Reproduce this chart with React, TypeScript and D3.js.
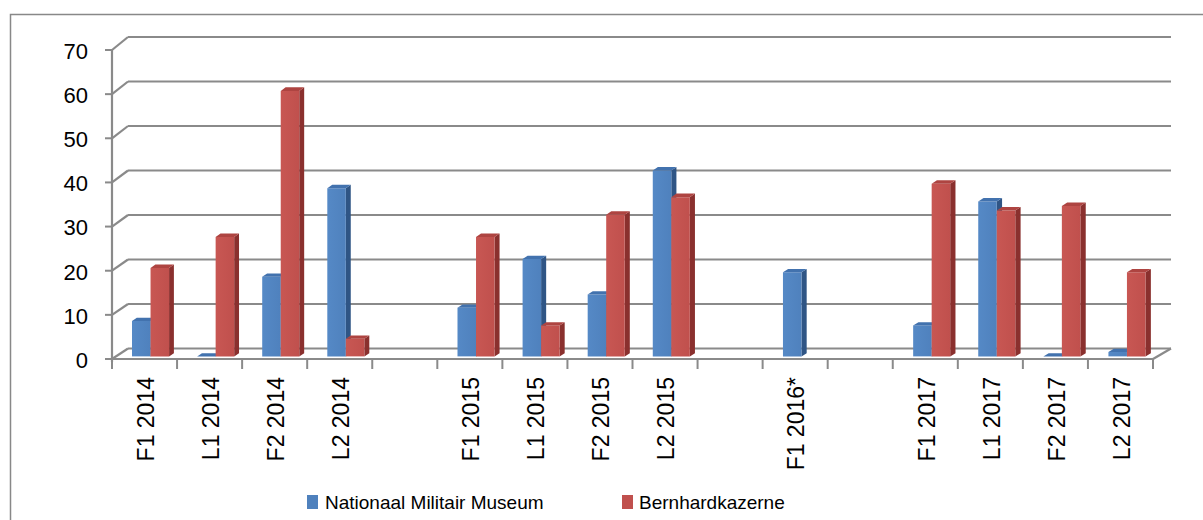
import React from "react";
import * as d3 from "d3";

const categories = ["F1 2014", "L1 2014", "F2 2014", "L2 2014", "", "F1 2015", "L1 2015", "F2 2015", "L2 2015", "", "F1 2016*", "", "F1 2017", "L1 2017", "F2 2017", "L2 2017"];
const nmmValues: (number | null)[] = [8, 0, 18, 38, null, 11, 22, 14, 42, null, 19, null, 7, 35, 0, 1];
const bkValues: (number | null)[] = [20, 27, 60, 4, null, 27, 7, 32, 36, null, null, null, 39, 33, 34, 19];
const seriesNames = ["Nationaal Militair Museum", "Bernhardkazerne"];
const yTicks = [0, 10, 20, 30, 40, 50, 60, 70];

const W = 1203;
const H = 520;
const FONT = "'Liberation Sans', Arial, sans-serif";
const GRID = "#8a8a8a";

const palettes = [
  { front: "#4F81BD", frontHi: "#5589C6", top: "#4272AE", side: "#2F5585" },
  { front: "#C0504D", frontHi: "#C85753", top: "#AE4441", side: "#8A302E" },
];

const xFront = d3.scaleBand<number>().domain(d3.range(categories.length)).range([112, 1153]).paddingInner(0).paddingOuter(0);
const xBack = d3.scaleLinear().domain([112, 1153]).range([128, 1171]);
const yFront = d3.scaleLinear().domain([0, 70]).range([359, 50]);
const yBack = d3.scaleLinear().domain([0, 70]).range([348.5, 37]);
const sub = d3.scaleBand<number>().domain([0, 1]).range([0, xFront.step()]).paddingInner(0).paddingOuter(0.757);

function project(x: number, v: number, d: number): [number, number] {
  const xf = x, yf = yFront(v);
  const xb = xBack(x), yb = yBack(v);
  return [xf + d * (xb - xf), yf + d * (yb - yf)];
}
const pts = (arr: [number, number][]) => arr.map((p) => p[0].toFixed(2) + "," + p[1].toFixed(2)).join(" ");

const D0 = 0.25;
const D1 = 0.55;
const SHIFT = 2;

export default function App() {
  React.useEffect(() => {
    document.body.style.margin = "0";
    document.body.style.overflow = "hidden";
  }, []);

  const series = [nmmValues, bkValues];
  const bars: JSX.Element[] = [];
  categories.forEach((_, i) => {
    series.forEach((vals, s) => {
      const v = vals[i];
      if (v === null || v === undefined) return;
      const x0 = (xFront(i) as number) + (sub(s) as number) + SHIFT;
      const x1 = x0 + sub.bandwidth();
      const p = palettes[s];
      const front: [number, number][] = [project(x0, 0, D0), project(x1, 0, D0), project(x1, v, D0), project(x0, v, D0)];
      const side: [number, number][] = [project(x1, 0, D0), project(x1, 0, D1), project(x1, v, D1), project(x1, v, D0)];
      const top: [number, number][] = [project(x0, v, D0), project(x1, v, D0), project(x1, v, D1), project(x0, v, D1)];
      bars.push(
        <g key={`b-${i}-${s}`}>
          <polygon points={pts(side)} fill={p.side} />
          <polygon points={pts(front)} fill={`url(#grad${s})`} />
          <polygon points={pts(top)} fill={p.top} />
        </g>
      );
    });
  });

  return (
    <div style={{ position: "absolute", left: 0, top: 0, width: W, height: H, overflow: "hidden", background: "#fff" }}>
      <svg width={W} height={H} style={{ display: "block" }}>
        <defs>
          {palettes.map((p, s) => (
            <linearGradient key={s} id={`grad${s}`} x1="0" x2="1" y1="0" y2="0">
              <stop offset="0" stopColor={p.frontHi} />
              <stop offset="1" stopColor={p.front} />
            </linearGradient>
          ))}
        </defs>
        <rect x={10.5} y={14.5} width={1400} height={700} fill="#fff" stroke="#888" strokeWidth={1.5} />

        {/* walls gridlines */}
        {yTicks.map((t) => (
          <g key={`g-${t}`}>
            <line x1={112} y1={yFront(t)} x2={xBack(112)} y2={yBack(t)} stroke={GRID} strokeWidth={2.2} />
            <line x1={xBack(112)} y1={yBack(t)} x2={xBack(1153)} y2={yBack(t)} stroke={GRID} strokeWidth={2.2} />
            <line x1={105} y1={yFront(t)} x2={112} y2={yFront(t)} stroke={GRID} strokeWidth={2} />
            <text x={88} y={yFront(t)} dy="0.4em" textAnchor="end" fontFamily={FONT} fontSize={22} fill="#000">
              {t}
            </text>
          </g>
        ))}
        {/* floor */}
        <line x1={112} y1={yFront(0)} x2={1153} y2={yFront(0)} stroke={GRID} strokeWidth={2.2} />
        <line x1={1153} y1={yFront(0)} x2={xBack(1153)} y2={yBack(0)} stroke={GRID} strokeWidth={2.2} />
        {/* y axis */}
        <line x1={112} y1={yFront(70)} x2={112} y2={yFront(0) + 3} stroke={GRID} strokeWidth={2.2} />
        {/* x ticks */}
        {d3.range(categories.length + 1).map((k) => {
          const x = 112 + k * xFront.step();
          return <line key={`t-${k}`} x1={x} y1={yFront(0)} x2={x} y2={yFront(0) + 10} stroke={GRID} strokeWidth={2} />;
        })}

        {bars}

        {/* x labels */}
        {categories.map((c, i) =>
          c ? (
            <text
              key={`l-${i}`}
              transform={`translate(${(xFront(i) as number) + xFront.bandwidth() / 2 + 1},377) rotate(-90)`}
              dy="0.36em"
              textAnchor="end"
              fontFamily={FONT}
              fontSize={23}
              fill="#000"
            >
              {c}
            </text>
          ) : null
        )}

        {/* legend */}
        <rect x={307} y={495} width={11} height={14} fill={palettes[0].front} />
        <text x={325} y={509} fontFamily={FONT} fontSize={19} fill="#000">
          {seriesNames[0]}
        </text>
        <rect x={622} y={495} width={11} height={14} fill={palettes[1].front} />
        <text x={639} y={509} fontFamily={FONT} fontSize={19} fill="#000">
          {seriesNames[1]}
        </text>
      </svg>
    </div>
  );
}
